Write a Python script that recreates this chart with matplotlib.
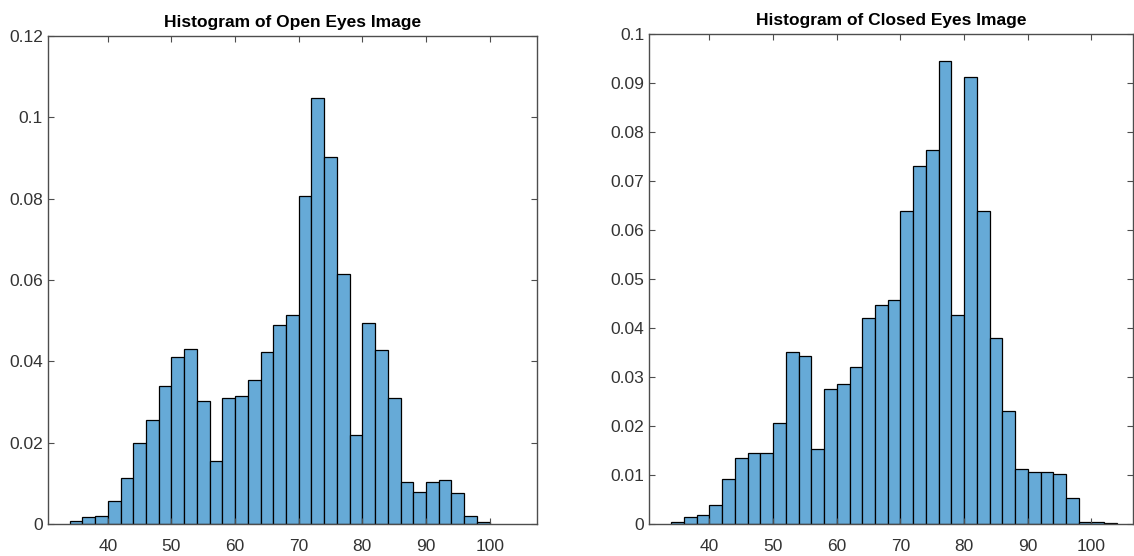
import matplotlib.pyplot as plt
from matplotlib.ticker import FuncFormatter

# bin edges start at 34, width 2
bin_width = 2
open_start = 34
open_vals = [0.0008, 0.0016, 0.0020, 0.0056, 0.0112, 0.0199, 0.0255, 0.0340,
             0.0410, 0.0431, 0.0302, 0.0155, 0.0309, 0.0315, 0.0353, 0.0422,
             0.0488, 0.0513, 0.0807, 0.1048, 0.0903, 0.0614, 0.0219, 0.0494,
             0.0428, 0.0309, 0.0104, 0.0079, 0.0104, 0.0108, 0.0075, 0.0020,
             0.0004]

closed_start = 34
closed_vals = [0.0005, 0.0014, 0.0019, 0.0039, 0.0092, 0.0134, 0.0145, 0.0145,
               0.0206, 0.0350, 0.0343, 0.0153, 0.0275, 0.0286, 0.0321, 0.0420,
               0.0446, 0.0457, 0.0639, 0.0730, 0.0763, 0.0944, 0.0427, 0.0912,
               0.0639, 0.0379, 0.0230, 0.0112, 0.0107, 0.0107, 0.0102, 0.0052,
               0.0005, 0.0005, 0.0003]

xticks = [40, 50, 60, 70, 80, 90, 100]
open_yticks = [0, 0.02, 0.04, 0.06, 0.08, 0.1, 0.12]
closed_yticks = [0, 0.01, 0.02, 0.03, 0.04, 0.05, 0.06, 0.07, 0.08, 0.09, 0.1]

plt.rcParams['font.family'] = ['Liberation Sans', 'DejaVu Sans']

face = (0.4, 0.668, 0.845)
axcol = '#4d4d4d'

fig = plt.figure(figsize=(11.34, 5.56), dpi=100)
ax1 = fig.add_axes([0.0423, 0.0576, 0.431, 0.878])
ax2 = fig.add_axes([0.5723, 0.0576, 0.4267, 0.882])


def draw(ax, start, vals, title, yticks, xlim):
    edges = [start + i * bin_width for i in range(len(vals))]
    ax.bar(edges, vals, width=bin_width, align='edge', color=face,
           edgecolor='black', linewidth=0.9)
    ax.set_xlim(*xlim)
    ax.set_ylim(0, yticks[-1])
    ax.set_xticks(xticks)
    ax.set_yticks(yticks)
    ax.yaxis.set_major_formatter(FuncFormatter(lambda v, p: '%g' % round(v, 4)))
    ax.tick_params(direction='in', top=True, right=True, length=4,
                   width=0.8, color=axcol, labelcolor='#333333', labelsize=12.5)
    ax.tick_params(axis='x', pad=11)
    for s in ax.spines.values():
        s.set_color(axcol)
        s.set_linewidth(1.0)
    ax.set_title(title, fontsize=12.5, fontweight='bold', pad=6)


draw(ax1, open_start, open_vals, 'Histogram of Open Eyes Image',
     open_yticks, (30.6, 107.4))
draw(ax2, closed_start, closed_vals, 'Histogram of Closed Eyes Image',
     closed_yticks, (30.5, 106.5))

plt.savefig('out.png', dpi=100)
